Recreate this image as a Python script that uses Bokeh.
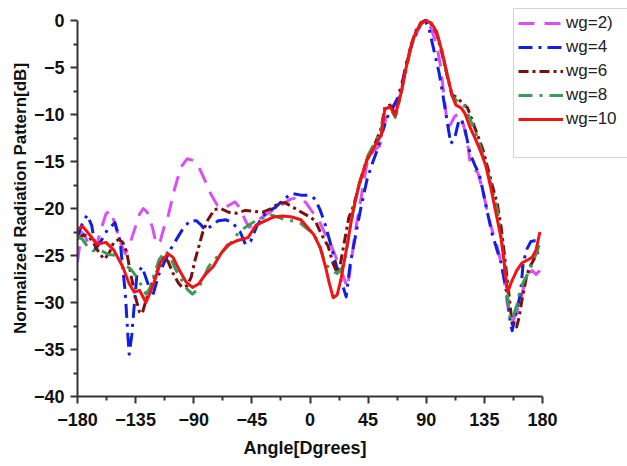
from bokeh.plotting import figure
from bokeh.models import Legend, LegendItem, FixedTicker, Title
from bokeh.embed import file_html
from bokeh.resources import INLINE

# ---------------- data ----------------
x_ticks = [-180, -135, -90, -45, 0, 45, 90, 135, 180]
x_minor = [-157.5, -112.5, -67.5, -22.5, 22.5, 67.5, 112.5, 157.5]
y_ticks = [-40, -35, -30, -25, -20, -15, -10, -5, 0]
y_minor = [-37.5, -32.5, -27.5, -22.5, -17.5, -12.5, -7.5, -2.5]

labels = ["wg=2)", "wg=4", "wg=6", "wg=8", "wg=10"]

ang_wg2 = [-180, -177, -174, -170, -166, -162, -158, -155, -151, -147, -143, -140, -136, -132, -129, -126,
           -122, -119, -116, -113, -110, -105, -100, -95, -90, -86, -82, -77, -72, -67, -62, -58, -54, -50,
           -47, -43, -38, -30, -22, -15, -8, -3, 2, 6, 10, 16, 21, 26, 29, 31, 35, 40, 45, 50, 54, 57, 60,
           64, 67, 70, 74, 78, 82, 86, 89, 93, 98, 101, 103, 105, 106.5, 109, 112, 116, 119, 122, 124, 127,
           130, 134, 138, 142, 145, 148, 150, 152, 154, 157, 160, 163, 166, 169, 172, 175, 178]
val_wg2 = [-25.7, -22.5, -23.0, -24.2, -24.3, -22.3, -20.6, -20.2, -21.6, -23.6, -24.8, -24.0, -22.3, -20.6,
           -20.0, -20.4, -22.0, -23.8, -23.5, -22.0, -20.9, -18.0, -15.6, -14.7, -14.9, -15.6, -16.8, -18.4,
           -19.6, -20.0, -19.6, -19.3, -20.0, -21.3, -22.0, -21.6, -21.0, -20.3, -19.6, -19.0, -18.8, -19.4,
           -20.4, -21.0, -22.2, -23.8, -25.5, -27.3, -28.4, -26.6, -22.5, -18.5, -14.5, -13.8, -13.3, -11.5,
           -9.6, -9.4, -8.8, -7.8, -5.3, -3.0, -1.5, -0.4, 0.0, -0.6, -2.5, -4.8, -7.1, -9.5, -11.4, -11.0,
           -10.2, -9.9, -11.2, -13.0, -15.2, -15.8, -16.2, -18.2, -20.8, -22.8, -24.1, -25.8, -27.3, -29.3,
           -31.2, -32.0, -31.0, -29.8, -28.0, -26.9, -26.6, -27.0, -26.6]

ang_wg4 = [-180, -176, -172.5, -169, -166, -162, -157, -151, -147, -143, -141, -140, -138, -136.5, -134,
           -130, -126, -122, -117, -112, -107, -99, -93, -88, -84, -81, -76, -71, -65, -60, -54, -50, -46,
           -41, -34, -27, -20, -14, -6, 0, 4, 8, 12, 16, 22, 26, 28, 31, 34, 39, 44, 48, 52, 56, 61, 65, 68,
           72, 75, 79, 83, 86, 89, 92, 96, 100, 103, 106, 109, 112, 115, 117, 120, 124, 128, 131, 134, 137,
           141, 145, 148, 151, 153, 155, 156.5, 159, 163, 165, 168, 171, 175, 177]
val_wg4 = [-23.0, -21.5, -20.7, -21.8, -24.3, -23.5, -22.3, -21.5, -23.5, -29.0, -33.5, -35.5, -33.5, -31.0,
           -27.0, -26.2, -27.8, -29.4, -27.0, -25.5, -24.1, -22.3, -21.3, -21.3, -21.8, -22.3, -21.8, -21.3,
           -21.2, -21.5, -22.5, -23.8, -23.5, -21.8, -20.4, -19.9, -19.0, -18.4, -18.6, -18.6, -19.0, -20.2,
           -21.8, -23.8, -26.9, -28.5, -29.4, -26.0, -23.8, -20.2, -17.0, -15.3, -13.8, -11.8, -9.9, -9.0,
           -8.2, -6.2, -4.3, -2.5, -1.1, -0.3, 0.0, -0.8, -3.2, -5.6, -8.0, -10.6, -13.1, -12.5, -10.8, -10.5,
           -11.6, -14.2, -15.5, -16.3, -18.2, -20.2, -22.7, -24.5, -25.8, -28.0, -29.6, -32.0, -33.0, -31.5,
           -29.0, -25.8, -24.3, -23.5, -23.4, -23.8]

ang_wg6 = [-180, -175, -171, -167, -163, -159, -155, -152, -148, -145, -142, -138, -135, -132, -130, -127,
           -123, -119, -114, -110, -106, -102, -99, -95, -92, -89, -86, -83, -79, -74, -69, -63, -57, -50,
           -43, -37, -30, -24, -19, -14, -9, -4, 0, 4, 8, 11, 14, 18, 21, 23, 26, 30, 34, 38, 44, 50, 55, 58,
           62, 66, 70, 74, 78, 82, 86, 90, 94, 98, 102, 106, 110, 114, 118, 122, 126, 130, 134, 138, 142, 145,
           148, 151, 154, 156.5, 160, 162, 164, 168, 171, 173, 177]
val_wg6 = [-23.2, -22.8, -23.0, -23.8, -24.8, -25.4, -24.6, -23.6, -23.3, -23.6, -24.6, -27.5, -29.5, -31.0,
           -31.2, -29.8, -28.2, -26.9, -25.2, -25.6, -26.9, -27.9, -28.4, -28.2, -27.3, -25.5, -24.0, -22.5,
           -21.2, -20.1, -20.0, -20.4, -20.5, -20.2, -20.3, -20.4, -20.0, -19.4, -19.4, -19.8, -20.2, -20.6,
           -20.9, -21.3, -22.5, -23.3, -24.0, -25.9, -26.8, -26.3, -24.0, -21.0, -19.6, -17.5, -14.8, -13.2,
           -11.5, -9.2, -9.0, -10.0, -7.9, -5.2, -2.7, -1.1, -0.2, 0.0, -0.4, -1.4, -3.4, -5.8, -7.9, -8.2,
           -8.8, -9.3, -10.8, -12.3, -13.8, -15.9, -18.0, -19.5, -22.0, -25.5, -29.1, -32.3, -32.6, -31.5,
           -29.8, -27.0, -26.0, -25.5, -24.5]

ang_wg8 = [-180, -176, -172, -168, -164, -160, -156, -150, -145, -139, -134, -130, -127, -124, -121, -117,
           -112, -108, -104, -99, -95, -91, -87, -83, -79, -74, -69, -62, -55, -48, -42, -36, -32, -25, -19,
           -14, -7, -1, 3, 7, 12, 16, 21, 25, 28, 31, 34, 39, 44, 50, 55, 58, 62, 66, 70, 74, 78, 82, 86, 90,
           94, 98, 102, 106, 110, 114, 119, 123, 128, 132, 136, 140, 145, 148, 150.5, 152.7, 155, 158, 160.5,
           163, 166, 170, 173, 176, 178]
val_wg8 = [-22.9, -23.3, -24.1, -24.5, -24.4, -24.6, -24.9, -25.0, -25.9, -26.4, -27.3, -28.3, -29.1, -28.5,
           -27.2, -25.5, -24.5, -25.2, -26.5, -27.7, -28.6, -29.1, -28.6, -27.6, -26.3, -25.4, -24.8, -23.8,
           -22.5, -21.8, -21.3, -21.0, -20.6, -20.9, -21.2, -21.3, -21.6, -22.3, -22.7, -23.8, -25.9, -26.5,
           -26.9, -26.3, -24.8, -22.0, -19.9, -17.0, -14.6, -13.0, -11.8, -9.4, -9.3, -10.3, -8.2, -5.5,
           -2.9, -1.3, -0.3, 0.0, -0.3, -1.2, -3.2, -5.7, -8.0, -8.6, -8.9, -10.2, -11.8, -13.5, -15.3,
           -17.4, -20.2, -23.0, -26.0, -29.1, -31.9, -31.2, -30.1, -28.5, -27.6, -26.6, -25.5, -24.5, -23.5]

ang_wg10 = [-180, -176, -170, -165, -158, -152, -145, -140, -136, -132, -127, -121, -116, -110, -106, -101,
            -96, -91, -86, -81, -75, -69, -64, -56, -48, -42, -36, -28, -21, -14, -7, -2, 3, 8, 12, 15, 18,
            21, 24, 28, 33, 38, 44, 50, 55, 58, 62, 66, 70, 74, 78, 82, 86, 90, 94, 98, 102, 106, 110, 113,
            117, 120, 124, 128, 132, 136, 140, 144, 148, 151, 153, 156, 160, 164, 168, 172, 175, 178]
val_wg10 = [-22.2, -21.9, -22.9, -23.8, -23.6, -24.4, -26.2, -28.0, -28.9, -28.7, -30.0, -28.0, -25.8, -24.8,
            -25.2, -26.6, -27.8, -28.4, -28.0, -27.0, -26.2, -24.8, -23.9, -23.4, -23.1, -21.8, -21.4, -20.9,
            -20.8, -20.9, -21.2, -22.0, -22.8, -24.2, -26.2, -28.0, -29.5, -29.2, -27.5, -24.5, -20.5, -17.4,
            -14.9, -13.4, -12.2, -9.4, -9.2, -10.1, -8.0, -5.3, -2.8, -1.2, -0.3, 0.0, -0.3, -1.2, -3.2, -5.6,
            -8.0, -9.0, -9.3, -9.9, -11.4, -12.6, -13.9, -15.4, -17.8, -20.5, -23.2, -26.5, -28.9, -27.8,
            -26.6, -25.8, -25.5, -25.2, -24.4, -22.5]

# ---------------- figure ----------------
# The frame is extended to the right and top (beyond the axis bounds) so the
# legend, which overlaps the plot corner, is not clipped.
p = figure(x_range=(-180, 245.8), y_range=(-40, 2.13),
           width=627, height=466,
           min_border_left=77, min_border_right=0, min_border_top=0, min_border_bottom=70,
           output_backend="svg", toolbar_location=None)
p.outline_line_color = None
p.xgrid.visible = False
p.ygrid.visible = False
p.background_fill_color = "white"
p.border_fill_color = "white"

series = [
    (ang_wg2, val_wg2, "#d94ff5", "16 10"),
    (ang_wg4, val_wg4, "#1020e0", "14 6 3 6"),
    (ang_wg6, val_wg6, "#7b1010", "10 4 3 4"),
    (ang_wg8, val_wg8, "#3a9c5a", "14 7 3 7"),
    (ang_wg10, val_wg10, "#f01414", "solid"),
]
renderers = []
for a, v, c, d in series:
    r = p.line(a, v, line_color=c, line_width=3, line_dash=d, line_join="round")
    renderers.append(r)

blank = p.line([], [], line_alpha=0)

items = [LegendItem(label=lab, renderers=[r]) for lab, r in zip(labels, renderers)]
items.append(LegendItem(label=" ", renderers=[blank]))
legend = Legend(items=items, location=(436, 238))
legend.glyph_width = 45
legend.glyph_height = 20
legend.label_height = 20
legend.label_width = 70
legend.spacing = 4
legend.padding = 4
legend.margin = 0
legend.label_standoff = 3
legend.label_text_font = "Liberation Sans"
legend.label_text_font_size = "17px"
legend.label_text_color = "#222222"
legend.border_line_color = "#aaaaaa"
legend.border_line_width = 1
legend.background_fill_color = "white"
legend.background_fill_alpha = 1.0
p.add_layout(legend)

for ax in (p.xaxis[0], p.yaxis[0]):
    ax.axis_line_width = 2
    ax.axis_line_color = "#333333"
    ax.major_tick_line_color = "#333333"
    ax.major_tick_line_width = 2
    ax.minor_tick_line_color = "#333333"
    ax.minor_tick_line_width = 2
    ax.major_tick_out = 7
    ax.major_tick_in = 0
    ax.minor_tick_out = 4
    ax.minor_tick_in = 0
    ax.major_label_text_font = "Liberation Sans"
    ax.major_label_text_font_style = "bold"
    ax.major_label_text_font_size = "18px"
    ax.major_label_text_color = "#111111"
    ax.axis_label_text_font = "Liberation Sans"
    ax.axis_label_text_font_style = "bold"
    ax.axis_label_text_color = "#111111"

p.xaxis[0].bounds = (-180, 180)
p.yaxis[0].bounds = (-40, 0)
p.xaxis[0].ticker = FixedTicker(ticks=x_ticks, minor_ticks=x_minor)
p.yaxis[0].ticker = FixedTicker(ticks=y_ticks, minor_ticks=y_minor)
p.xaxis[0].major_label_standoff = 9
p.yaxis[0].axis_label = "Normalized Radiation Pattern[dB]"
p.yaxis[0].axis_label_text_font_size = "17px"
p.yaxis[0].major_label_standoff = 6
p.yaxis[0].axis_label_standoff = 1

# x-axis title, centred under the axis span (not under the extended frame)
xtitle = Title(text="Angle[Dgrees]", align="left", offset=166,
               text_font="Liberation Sans", text_font_style="bold",
               text_font_size="18px", text_color="#111111", standoff=15)
p.add_layout(xtitle, "below")

open("out.html", "w").write(file_html(p, INLINE))
